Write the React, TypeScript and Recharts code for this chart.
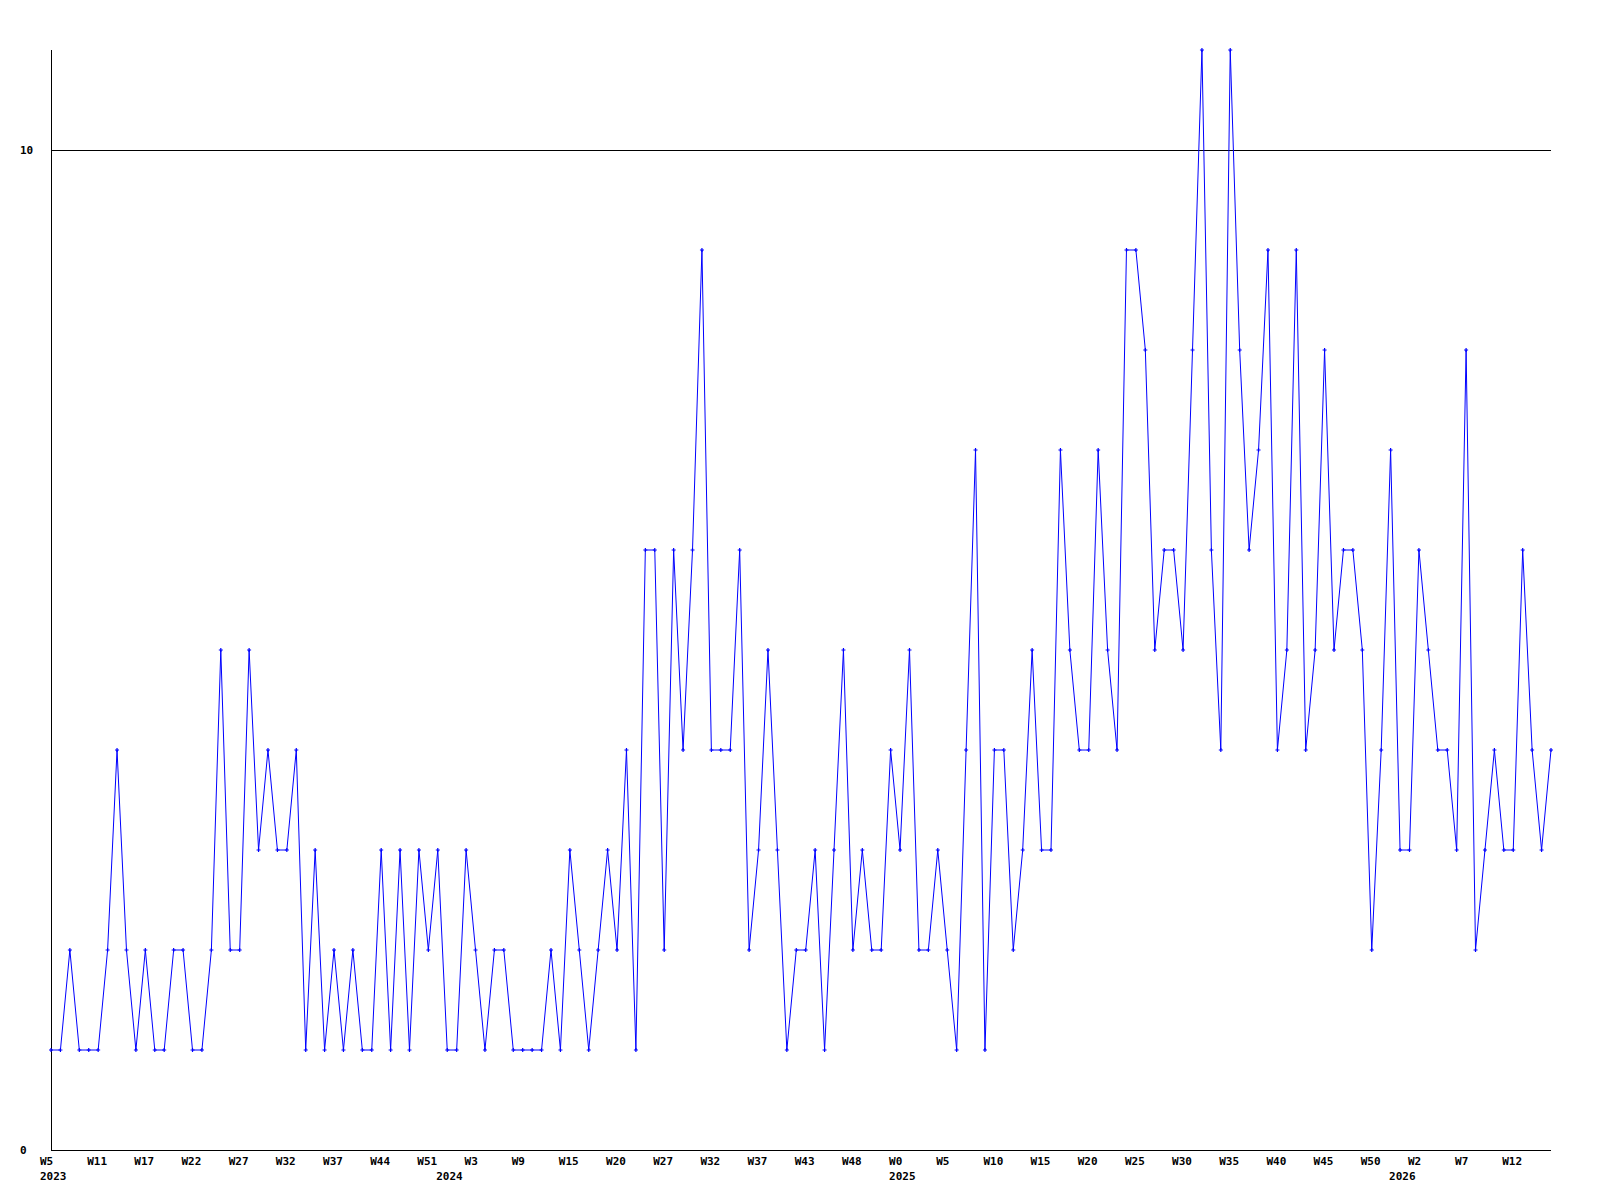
import { LineChart, Line, XAxis, YAxis, ReferenceLine } from "recharts";

// weekly counts, one per point, Feb 2023 .. Mar 2026
const values = [
  1, 1, 2, 1, 1, 1, 2, 4, 2, 1,
  2, 1, 1, 2, 2, 1, 1, 2, 5, 2,
  2, 5, 3, 4, 3, 3, 4, 1, 3, 1,
  2, 1, 2, 1, 1, 3, 1, 3, 1, 3,
  2, 3, 1, 1, 3, 2, 1, 2, 2, 1,
  1, 1, 1, 2, 1, 3, 2, 1, 2, 3,
  2, 4, 1, 6, 6, 2, 6, 4, 6, 9,
  4, 4, 4, 6, 2, 3, 5, 3, 1, 2,
  2, 3, 1, 3, 5, 2, 3, 2, 2, 4,
  3, 5, 2, 2, 3, 2, 1, 4, 7, 1,
  4, 4, 2, 3, 5, 3, 3, 7, 5, 4,
  4, 7, 5, 4, 9, 9, 8, 5, 6, 6,
  5, 8, 11, 6, 4, 11, 8, 6, 7, 9,
  4, 5, 9, 4, 5, 8, 5, 6, 6, 5,
  2, 4, 7, 3, 3, 6, 5, 4, 4, 3,
  8, 2, 3, 4, 3, 3, 6, 4, 3, 4,
];

// one label every 5 points
const weekTicks = [
  "W5", "W11", "W17", "W22", "W27", "W32", "W37", "W44", "W51", "W3",
  "W9", "W15", "W20", "W27", "W32", "W37", "W43", "W48", "W0", "W5",
  "W10", "W15", "W20", "W25", "W30", "W35", "W40", "W45", "W50", "W2",
  "W7", "W12",
];
const TICK_STEP = 5;

const years = ["2023", "2024", "2025", "2026"];
const yearStarts = [0, 42, 90, 143];

const yTicks = [0, 10];
const gridValue = 10;

const data = values.map((v, i) => ({ i, v }));

const xTicks = Array.from(
  new Set([...weekTicks.map((_, k) => k * TICK_STEP), ...yearStarts]),
).sort((a, b) => a - b);

const PLOT_BOTTOM = 1150;
const font = { fontFamily: "DejaVu Sans Mono", fontSize: 11, fontWeight: "bold" as const };

function XTick(props: any) {
  const { x, payload } = props;
  const idx = payload.value as number;
  const week = idx % TICK_STEP === 0 ? weekTicks[idx / TICK_STEP] : null;
  const yi = yearStarts.indexOf(idx);
  return (
    <g>
      {week && (
        <text x={x - 11} y={PLOT_BOTTOM + 15} {...font} fill="#000" textAnchor="start">
          {week}
        </text>
      )}
      {yi >= 0 && (
        <text x={x - 11} y={PLOT_BOTTOM + 30} {...font} fill="#000" textAnchor="start">
          {years[yi]}
        </text>
      )}
    </g>
  );
}

function YTick(props: any) {
  const { y, payload } = props;
  return (
    <text x={20} y={y + 4} {...font} fill="#000" textAnchor="start">
      {payload.value}
    </text>
  );
}

function Marker(props: any) {
  const { cx, cy } = props;
  if (cx == null || cy == null) return null;
  return (
    <path
      d={`M${cx - 2},${cy}H${cx + 2}M${cx},${cy - 2}V${cy + 2}`}
      stroke="#0000ff"
      strokeWidth={1.2}
      fill="none"
    />
  );
}

export default function App() {
  return (
    <div style={{ position: "absolute", left: 0, top: 0, width: 1600, height: 1200, background: "#fff" }}>
      <LineChart
        width={1600}
        height={1200}
        data={data}
        margin={{ top: 50, right: 49, left: 11, bottom: 10 }}
      >
        <XAxis
          dataKey="i"
          type="number"
          domain={[0, values.length - 1]}
          ticks={xTicks}
          interval={0}
          height={40}
          tickLine={false}
          axisLine={{ stroke: "#000", shapeRendering: "crispEdges" }}
          tick={<XTick />}
        />
        <YAxis
          type="number"
          domain={[0, 11]}
          ticks={yTicks}
          interval={0}
          width={40}
          tickLine={false}
          axisLine={{ stroke: "#000", shapeRendering: "crispEdges" }}
          tick={<YTick />}
        />
        <ReferenceLine y={gridValue} stroke="#000" shapeRendering="crispEdges" />
        <Line
          type="linear"
          dataKey="v"
          stroke="#0000ff"
          strokeWidth={1}
          dot={<Marker />}
          activeDot={false}
          isAnimationActive={false}
        />
      </LineChart>
    </div>
  );
}
